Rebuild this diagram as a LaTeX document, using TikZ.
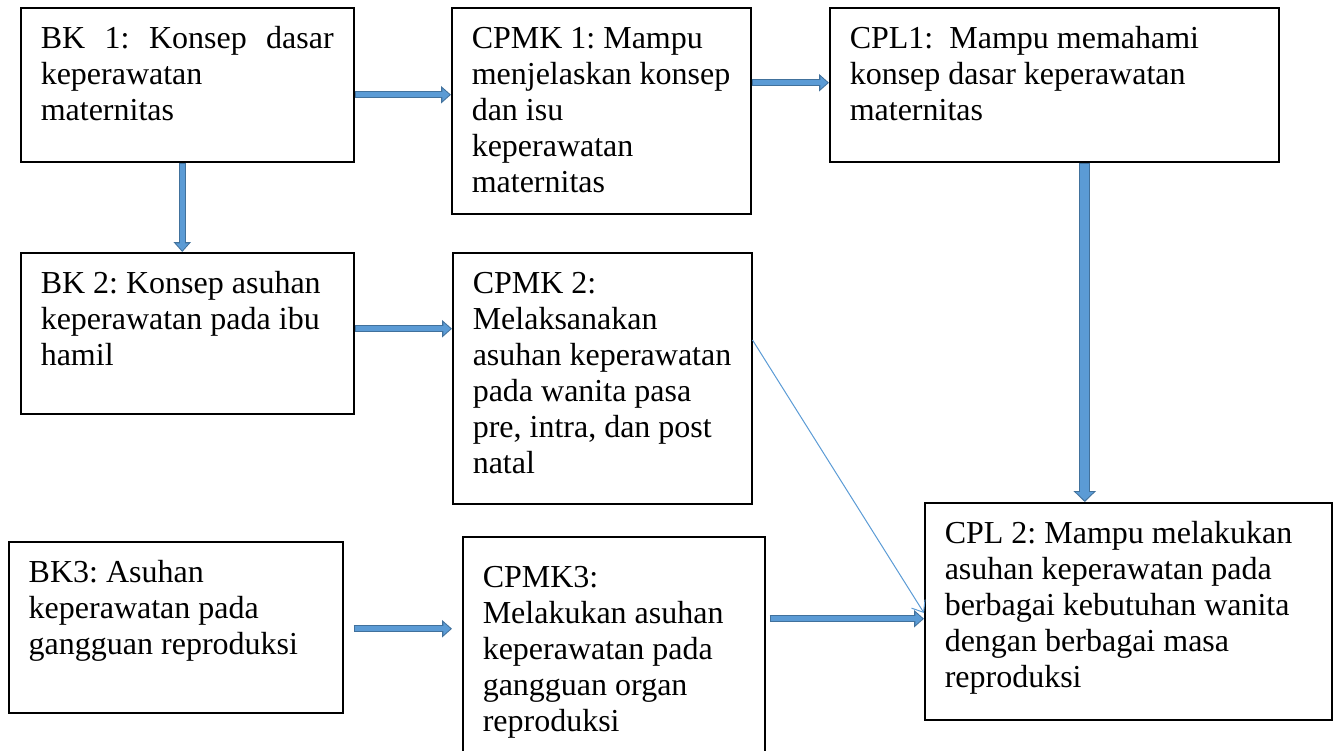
\documentclass[tikz,border=0pt]{standalone}
\usepackage{fontspec}
\setmainfont{Liberation Serif}
\usetikzlibrary{arrows.meta}
\newcommand{\isikotak}[3]{\parbox[t][#2][t]{#1}{\rule{0pt}{11pt}#3}}
\hfuzz=3pt
\begin{document}
\begin{tikzpicture}[x=0.5pt, y=-0.5pt,
  kotak/.style={draw=black, line width=0.75pt, anchor=north west, inner xsep=10pt, inner ysep=9.5pt, font=\fontsize{16}{18}\selectfont\frenchspacing},
  panah/.style={draw=birutua, line width=3.5pt, -{Triangle[width=8.5pt,length=5pt]},
    postaction={draw=birumuda, line width=2.3pt, -{Triangle[width=6.1pt,length=3.6pt]}, shorten >=0.75pt, shorten <=0.6pt}},
  panahtebal/.style={draw=birutua, line width=5.5pt, -{Triangle[width=11pt,length=5.5pt]},
    postaction={draw=birumuda, line width=4.3pt, -{Triangle[width=8.6pt,length=4.2pt]}, shorten >=0.8pt, shorten <=0.6pt}},
  tipis/.style={draw=birumuda, line width=0.5pt, -{Straight Barb[length=5pt,width=8pt]}}]
\definecolor{birumuda}{HTML}{5B9BD5}
\definecolor{birutua}{HTML}{41719C}
\useasboundingbox (0,0) rectangle (1338,750);
\clip (0,0) rectangle (1338,750);
\node[kotak] (bk1) at (20,7) {\isikotak{146.5pt}{58pt}{BK\hfill 1:\hfill Konsep\hfill dasar\\keperawatan\\maternitas}};
\node[kotak] (cpmk1) at (451,7) {\isikotak{129.5pt}{84pt}{CPMK 1: Mampu\\menjelaskan konsep\\dan isu\\keperawatan\\maternitas}};
\node[kotak] (cpl1) at (829,7) {\isikotak{204.5pt}{58pt}{CPL1:\ \ Mampu memahami\\konsep dasar keperawatan\\maternitas}};
\node[kotak] (bk2) at (20,252) {\isikotak{146.5pt}{61.5pt}{BK 2: Konsep asuhan\\keperawatan pada ibu\\hamil}};
\node[kotak] (cpmk2) at (452,252) {\isikotak{129.5pt}{106.5pt}{CPMK 2:\\Melaksanakan\\asuhan keperawatan\\pada wanita pasa\\pre, intra, dan post\\natal}};
\node[kotak] (cpl2) at (924,502) {\isikotak{183.5pt}{89.5pt}{CPL 2: Mampu melakukan\\asuhan keperawatan pada\\berbagai kebutuhan wanita\\dengan berbagai masa\\reproduksi}};
\node[kotak] (bk3) at (8,541) {\isikotak{147pt}{66.5pt}{BK3: Asuhan\\keperawatan pada\\gangguan reproduksi}};
\node[kotak, inner ysep=14.5pt] (cpmk3) at (462,536) {\isikotak{131pt}{95pt}{CPMK3:\\Melakukan asuhan\\keperawatan pada\\gangguan organ\\reproduksi}};
\coordinate (p1) at ([yshift=-5pt]bk1.east);
\draw[panah] (p1) -- (p1 -| cpmk1.west);
\coordinate (p2) at ([yshift=14pt]cpmk1.east);
\draw[panah] (p2) -- (p2 -| cpl1.west);
\coordinate (p3) at ([xshift=-2.5pt]bk1.south);
\draw[panah] (p3) -- (p3 |- bk2.north);
\coordinate (p4) at ([yshift=2.25pt]bk2.east);
\draw[panah] (p4) -- (p4 -| cpmk2.west);
\coordinate (p5) at ([xshift=15.25pt]cpl1.south);
\draw[panahtebal] (p5) -- (p5 |- cpl2.north);
\coordinate (p6) at ([yshift=-0.75pt]bk3.east);
\coordinate (q6) at (p6 -| cpmk3.west);
\draw[panah] ([xshift=5pt]p6) -- ([xshift=-5pt]q6);
\coordinate (p7) at ([yshift=-3.75pt]cpl2.west);
\coordinate (q7) at (p7 -| cpmk3.east);
\draw[panah] ([xshift=2pt]q7) -- (p7);
\draw[tipis] ([yshift=-44pt]cpmk2.north east) -- ([yshift=-55.5pt]cpl2.north west);
\end{tikzpicture}
\end{document}
